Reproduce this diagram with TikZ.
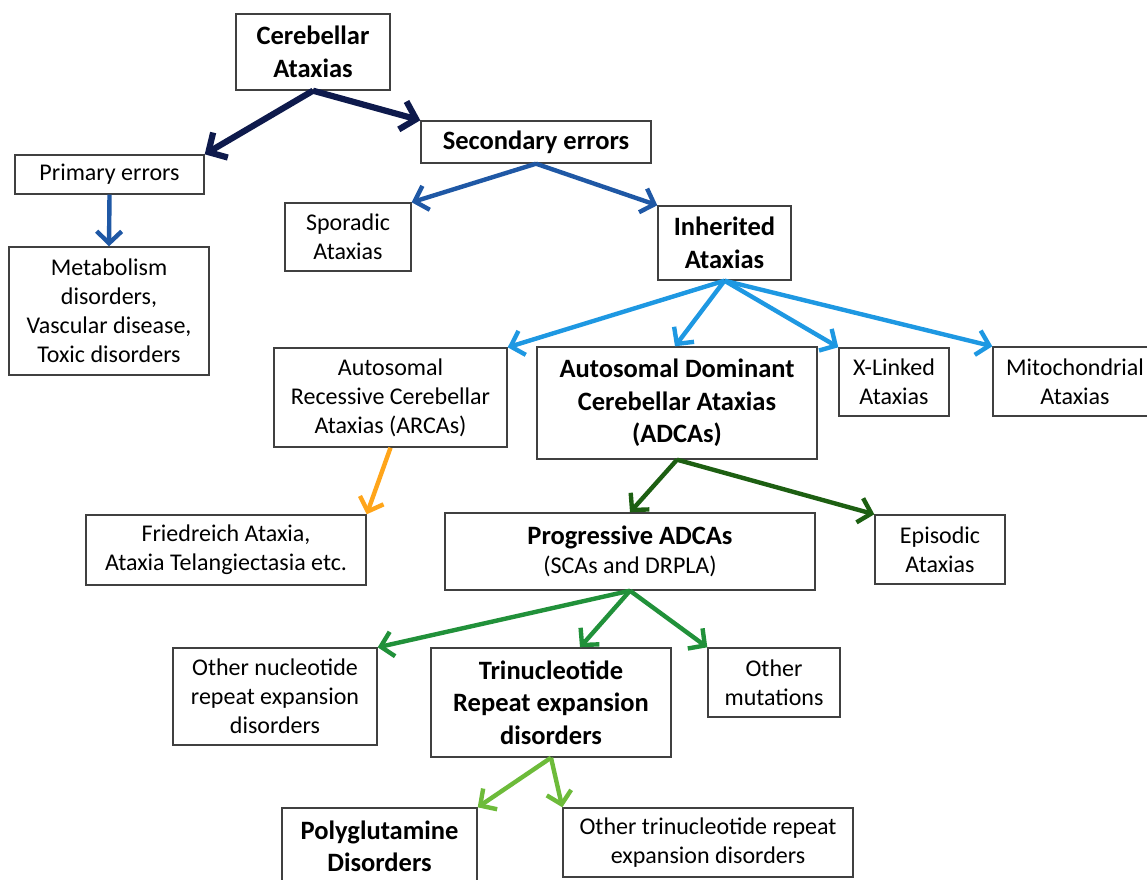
\documentclass[tikz,border=0pt]{standalone}
\usepackage{fontspec}
\setmainfont{Carlito}
\usetikzlibrary{arrows.meta}
\definecolor{boxgray}{HTML}{404040}
\definecolor{navyarr}{HTML}{0E1A4C}
\definecolor{bluearr}{HTML}{1F58A5}
\definecolor{skyarr}{HTML}{1E98E2}
\definecolor{orangearr}{HTML}{FFA51A}
\definecolor{dkgreenarr}{HTML}{1D5F12}
\definecolor{greenarr}{HTML}{21913A}
\definecolor{ltgreenarr}{HTML}{6DBB3A}
\newcommand\normtxt{\fontsize{24}{29}\selectfont}
\newcommand\boldtxt{\fontsize{26.5}{32.5}\selectfont\bfseries}
\begin{document}
\begin{tikzpicture}[x=1pt,y=-1pt,
    box/.style={draw=boxgray, line width=1.4pt, align=center, inner sep=0pt, font=\normtxt},
    bbox/.style={box, font=\boldtxt},
    arr/.style={line width=4.4pt, -{Straight Barb[length=12pt,width=25pt]}},
    bigarr/.style={line width=6.2pt, -{Straight Barb[length=14pt,width=29pt]}}]
    \useasboundingbox (0,0) rectangle (1147,879);

    \node[bbox, minimum width=154, minimum height=76] (cer) at (313,52) {Cerebellar\\Ataxias};
    \node[box, minimum width=189, minimum height=39] (prim) at (109.5,174.5) {Primary errors};
    \node[bbox, minimum width=230, minimum height=42] (sec) at (536,142) {Secondary errors};
    \node[box, minimum width=200, minimum height=128] (meta) at (109,311) {Metabolism\\disorders,\\Vascular disease,\\Toxic disorders};
    \node[box, minimum width=126, minimum height=68] (spor) at (348,237) {Sporadic\\Ataxias};
    \node[bbox, minimum width=133, minimum height=74] (inh) at (724.5,243) {Inherited\\Ataxias};

    \node[box, minimum width=233, minimum height=99] (arca) at (390.5,397.5) {Autosomal\\Recessive Cerebellar\\Ataxias (ARCAs)};
    \node[bbox, minimum width=280, minimum height=112] (adca) at (677,403) {Autosomal Dominant\\Cerebellar Ataxias\\(ADCAs)};
    \node[box, minimum width=110, minimum height=68] (xl) at (894,382) {X-Linked\\Ataxias};
    \node[box, minimum width=164, minimum height=69] (mito) at (1075,381.5) {Mitochondrial\\Ataxias};

    \node[box, minimum width=280, minimum height=70] (fried) at (226,550) {Friedreich Ataxia,\\Ataxia Telangiectasia etc.};
    \node[box, minimum width=370, minimum height=77] (prog) at (630,551.5) {{\boldtxt Progressive ADCAs}\\(SCAs and DRPLA)};
    \node[box, minimum width=130, minimum height=69] (epis) at (940,549.5) {Episodic\\Ataxias};

    \node[box, minimum width=204, minimum height=97] (othn) at (275,696.5) {Other nucleotide\\repeat expansion\\disorders};
    \node[bbox, minimum width=240, minimum height=109] (trin) at (551,702.5) {Trinucleotide\\Repeat expansion\\disorders};
    \node[box, minimum width=132, minimum height=69] (om) at (774,682.5) {Other\\mutations};

    \node[bbox, minimum width=195, minimum height=77] (poly) at (379.5,846.5) {Polyglutamine\\Disorders};
    \node[box, minimum width=290, minimum height=69] (otr) at (708,842.5) {Other trinucleotide repeat\\expansion disorders};

    \draw[bigarr, navyarr] (cer.south) -- (prim.north east);
    \draw[bigarr, navyarr] (cer.south) -- (sec.north west);
    \draw[arr, bluearr] (prim.south) -- (meta.north);
    \draw[arr, bluearr] (sec.south) -- (spor.north east);
    \draw[arr, bluearr] (sec.south) -- (inh.north west);
    \draw[arr, skyarr] (inh.south) -- (arca.north east);
    \draw[arr, skyarr] (inh.south) -- ([xshift=-2]adca.north);
    \draw[arr, skyarr] (inh.south) -- (xl.north west);
    \draw[arr, skyarr] (inh.south) -- (mito.north west);
    \draw[arr, orangearr] (arca.south) -- (fried.north east);
    \draw[arr, dkgreenarr] (adca.south) -- (prog.north);
    \draw[arr, dkgreenarr] (adca.south) -- (epis.north west);
    \draw[arr, greenarr] (prog.south) -- (othn.north east);
    \draw[arr, greenarr] (prog.south) -- ([xshift=29]trin.north);
    \draw[arr, greenarr] (prog.south) -- (om.north west);
    \draw[arr, ltgreenarr] (trin.south) -- (poly.north east);
    \draw[arr, ltgreenarr] (trin.south) -- (otr.north west);
\end{tikzpicture}
\end{document}
